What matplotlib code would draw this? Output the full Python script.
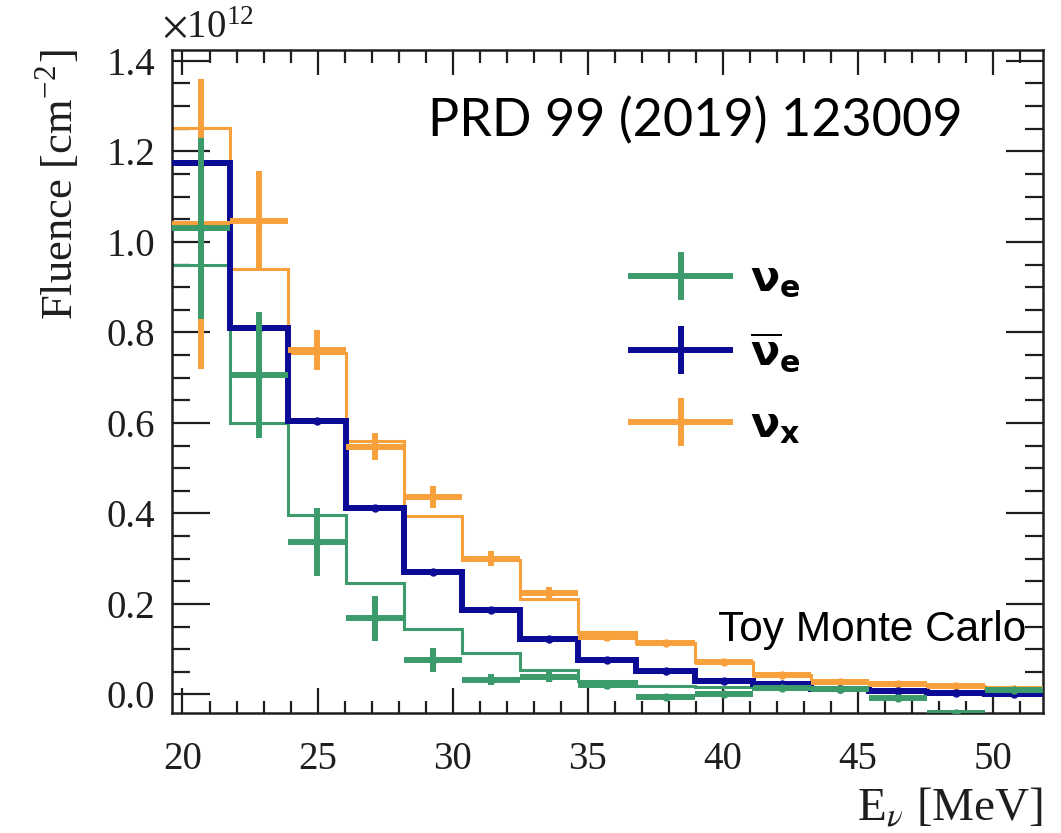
import matplotlib
matplotlib.use("Agg")
import matplotlib.pyplot as plt
import numpy as np
from matplotlib.font_manager import FontProperties
from matplotlib.lines import Line2D
from matplotlib.ticker import MultipleLocator, FormatStrFormatter

# energy binning [MeV]
bin_edges = [19.6, 21.75, 23.9, 26.05, 28.2, 30.35, 32.5, 34.65, 36.8,
             38.95, 41.1, 43.25, 45.4, 47.55, 49.7, 51.85]

# expected fluence per flavour [1e12 cm^-2]
nue_expected = [0.949, 0.600, 0.396, 0.247, 0.145, 0.092, 0.054, 0.030,
                0.018, 0.017, 0.013, 0.010, 0.008, 0.006, 0.005]
nuebar_expected = [1.175, 0.809, 0.605, 0.411, 0.271, 0.186, 0.122, 0.076,
                   0.053, 0.030, 0.024, 0.013, 0.008, 0.004, 0.001]
nux_expected = [1.252, 0.939, 0.755, 0.560, 0.394, 0.297, 0.212, 0.138,
                0.113, 0.072, 0.043, 0.028, 0.024, 0.018, 0.013]

# toy MC unfolded fluence and errors [1e12 cm^-2]
nue_toy = [1.030, 0.706, 0.337, 0.168, 0.076, 0.033, 0.039, 0.021,
           -0.006, 0.002, 0.015, 0.013, -0.007, -0.040, 0.0095]
nue_err = [0.200, 0.140, 0.075, 0.050, 0.026, 0.012, 0.012, 0.008,
           0.005, 0.004, 0.004, 0.004, 0.004, 0.003, 0.003]
nuebar_toy = nuebar_expected
nuebar_err = [0.006, 0.005, 0.005, 0.004, 0.004, 0.003, 0.003, 0.003,
              0.002, 0.002, 0.002, 0.002, 0.002, 0.002, 0.002]
nux_toy = [1.040, 1.046, 0.761, 0.547, 0.437, 0.300, 0.225, 0.127,
           0.113, 0.072, 0.043, 0.028, 0.024, 0.018, 0.013]
nux_err = [0.320, 0.110, 0.044, 0.030, 0.024, 0.016, 0.013, 0.008,
           0.006, 0.005, 0.004, 0.004, 0.004, 0.003, 0.003]

flavour_labels = [r"$\mathbf{\nu_e}$", r"$\overline{\mathbf{\nu}}_\mathbf{e}$",
                  r"$\mathbf{\nu_x}$"]

c_green = "#3c9b6b"
c_blue = "#0b0b96"
c_orange = "#f8a03c"
ink = "#1e1e1e"

edges = np.array(bin_edges)
centers = 0.5 * (edges[1:] + edges[:-1])
half_w = 0.5 * np.diff(edges)

fig = plt.figure(figsize=(10.61, 8.33), dpi=100)
ax = fig.add_axes([0.1618, 0.144, 0.8214, 0.796])

serif = "Liberation Serif"

ax.stairs(nux_expected, edges, color=c_orange, lw=2.2, baseline=None, zorder=2)
ax.stairs(nue_expected, edges, color=c_green, lw=2.2, baseline=None, zorder=2)
ax.stairs(nuebar_expected, edges, color=c_blue, lw=4.3, baseline=None,
          zorder=3)

ax.errorbar(centers, nux_toy, xerr=half_w, yerr=nux_err, fmt="o", ms=5,
            color=c_orange, elinewidth=4.3, capsize=0, zorder=4)
ax.errorbar(centers, nuebar_toy, xerr=half_w, yerr=nuebar_err, fmt="o",
            ms=5, color=c_blue, elinewidth=4.3, capsize=0, zorder=5)
ax.errorbar(centers, nue_toy, xerr=half_w, yerr=nue_err, fmt="o", ms=5,
            color=c_green, elinewidth=4.3, capsize=0, zorder=6)

ax.set_xlim(19.6, 51.85)
ax.set_ylim(-0.041, 1.424)

ax.xaxis.set_major_locator(MultipleLocator(5))
ax.xaxis.set_minor_locator(MultipleLocator(1))
ax.yaxis.set_major_locator(MultipleLocator(0.2))
ax.yaxis.set_minor_locator(MultipleLocator(0.05))
ax.yaxis.set_major_formatter(FormatStrFormatter("%.1f"))

ax.tick_params(axis="both", which="both", direction="in", top=True,
               right=True, color=ink, width=1.6)
ax.tick_params(axis="y", which="major", length=27, pad=12)
ax.tick_params(axis="y", which="minor", length=13)
ax.tick_params(axis="x", which="major", length=18, pad=20)
ax.tick_params(axis="x", which="minor", length=9)
for lab in ax.get_xticklabels() + ax.get_yticklabels():
    lab.set_fontfamily(serif)
    lab.set_fontsize(28)
    lab.set_color(ink)
for sp in ax.spines.values():
    sp.set_linewidth(1.8)
    sp.set_color(ink)

ax.set_ylabel(r"Fluence [cm$^{\mathregular{-2}}$]", fontfamily=serif,
              fontsize=32, loc="top", labelpad=18, color=ink,
              math_fontfamily="stix")
ax.set_xlabel(r"E$_{\nu}$ [MeV]", fontfamily=serif, fontsize=34,
              loc="right", labelpad=6, color=ink, math_fontfamily="stix")

fig.text(0.153, 0.944, r"$\times\mathregular{10^{12}}$", fontfamily=serif,
         fontsize=28, color=ink, math_fontfamily="stix", va="bottom")

ax.text(0.294, 0.893, "PRD 99 (2019) 123009", transform=ax.transAxes,
        fontfamily="Lato", fontsize=37.5, va="center", ha="left")
ax.text(0.627, 0.125, "Toy Monte Carlo", transform=ax.transAxes,
        fontfamily="Liberation Sans", fontsize=30.5, va="center", ha="left",
        zorder=10)

# legend entries drawn as crosses like the error bars
handles = [Line2D([0], [0], color=c, lw=4.3, marker="|", ms=34, mew=4.3)
           for c in (c_green, c_blue, c_orange)]
leg_prop = FontProperties(family="DejaVu Sans", weight="bold", size=31,
                          math_fontfamily="dejavusans")
ax.legend(handles, flavour_labels, loc="upper left",
          bbox_to_anchor=(0.483, 0.745), frameon=False, prop=leg_prop,
          handlelength=2.3, labelspacing=0.7, handletextpad=0.45,
          numpoints=1)

fig.savefig("out.png", dpi=100)
